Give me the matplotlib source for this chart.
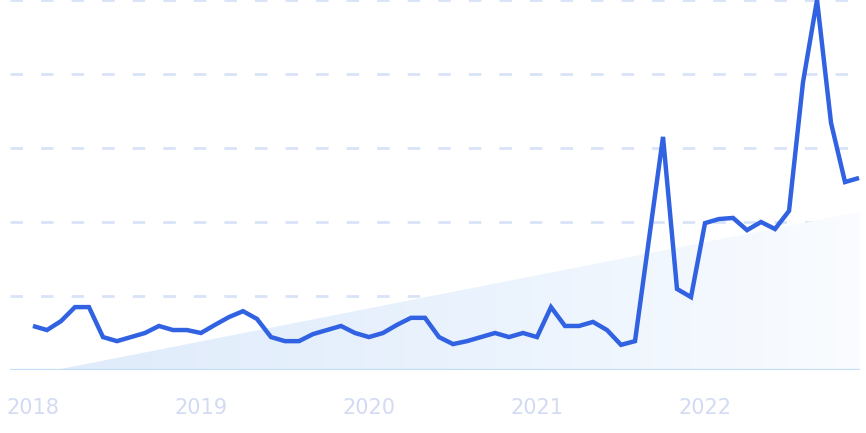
import numpy as np
import matplotlib
matplotlib.use('Agg')
import matplotlib.pyplot as plt
from matplotlib.colors import LinearSegmentedColormap

# monthly interest, Jan 2018 .. Dec 2022 (0-100 scale)
values = [11.9, 10.8, 13.2, 17.0, 17.0, 8.9, 7.8, 8.9, 10.0, 11.9, 10.8, 10.8,
          10.0, 12.2, 14.3, 15.9, 13.8, 8.9, 7.8, 7.8, 9.7, 10.8, 11.9, 10.0,
          8.9, 10.0, 12.2, 14.1, 14.1, 8.9, 7.0, 7.8, 8.9, 10.0, 8.9, 10.0,
          8.9, 17.0, 11.9, 11.9, 13.0, 10.8, 6.8, 7.8, 35.4, 63.0, 21.9, 19.7,
          39.7, 40.8, 41.1, 37.8, 40.0, 38.1, 43.0, 77.8, 100.0, 66.8, 50.8, 51.9]
years = ['2018', '2019', '2020', '2021', '2022']
trend_start = -1.2   # trend value at first month
trend_end = 42.7     # trend value at last month

x = np.arange(len(values))
xt = np.linspace(0, x[-1] + 0.1, 400)
trend = np.clip(trend_start + (trend_end - trend_start) * xt / x[-1], 0, None)

fig = plt.figure(figsize=(8.66, 4.33), dpi=100)
ax = fig.add_axes([10 / 866, 63 / 433, 850 / 866, 370 / 433])
ax.set_xlim(-1.64, 59.07)
ax.set_ylim(0, 100)

# gradient trend area
grad = LinearSegmentedColormap.from_list('g', ['#dfebfb', '#e9f2fd', '#fafcff'])
img = ax.imshow(np.linspace(0, 1, 256).reshape(1, -1), cmap=grad, aspect='auto',
                extent=[0, x[-1] + 0.1, 0, trend_end], zorder=1)
poly = ax.fill_between(xt, 0, trend, color='none', lw=0)
img.set_clip_path(poly.get_paths()[0], transform=ax.transData)

for g in [20, 40, 60, 80, 100]:
    ax.axhline(g, color='#d8e3f8', lw=2, dashes=(4.5, 6.5), zorder=0, clip_on=False)
ax.axhline(0, color='#c3def9', lw=1.6, zorder=2)

ax.plot(x, values, color='#3162e2', lw=3.2, solid_joinstyle='miter',
        solid_capstyle='butt', zorder=3, clip_on=False)

ax.set_xticks(x[::12])
ax.set_xticklabels(years)
ax.tick_params(axis='x', length=0, pad=20, labelsize=15, labelcolor='#d3dbf3')
ax.set_yticks([])
for s in ax.spines.values():
    s.set_visible(False)

fig.savefig('out.png', dpi=100)
